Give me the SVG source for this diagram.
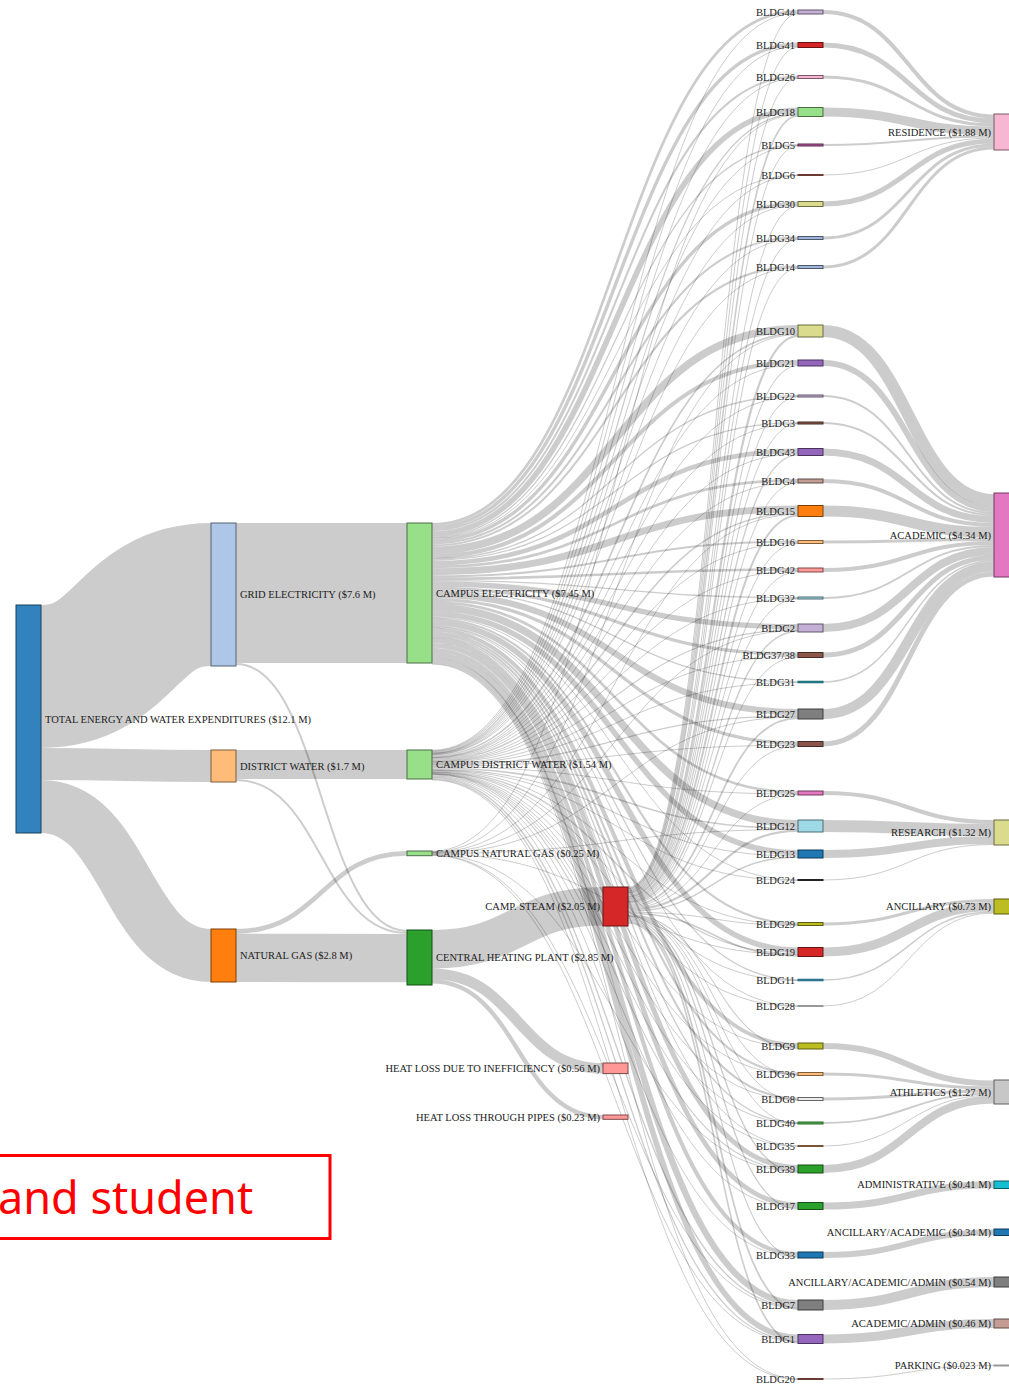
<svg xmlns="http://www.w3.org/2000/svg" width="1009" height="1387" viewBox="0 0 1009 1387">
<style>
.lk{fill:none;stroke:#000;stroke-opacity:.2}
text{font-family:"Liberation Serif","Times New Roman",serif;font-size:10.5px;fill:#222}
.r{text-anchor:end}
</style>
<rect x="0" y="0" width="1009" height="1387" fill="#fff"/>
<g id="links">
<path class="lk" stroke-width="143" d="M41,676.5C126,676.5 126,594.5 211,594.5"/>
<path class="lk" stroke-width="32" d="M41,764C126,764 126,766 211,766"/>
<path class="lk" stroke-width="53" d="M41,806.5C126,806.5 126,955.5 211,955.5"/>
<path class="lk" stroke-width="140" d="M236,593C321.5,593 321.5,593 407,593"/>
<path class="lk" stroke-width="2" d="M236,664C321.5,664 321.5,931 407,931"/>
<path class="lk" stroke-width="29" d="M236,764.5C321.5,764.5 321.5,764.5 407,764.5"/>
<path class="lk" stroke-width="2" d="M236,780C321.5,780 321.5,933 407,933"/>
<path class="lk" stroke-width="4.7" d="M236,931.35C321.5,931.35 321.5,853.35 407,853.35"/>
<path class="lk" stroke-width="48.3" d="M236,957.85C321.5,957.85 321.5,958.15 407,958.15"/>
<path class="lk" stroke-width="38.6" d="M432,949.3C517.5,949.3 517.5,906.3 603,906.3"/>
<path class="lk" stroke-width="10.6" d="M432,973.9C517.5,973.9 517.5,1068.3 603,1068.3"/>
<path class="lk" stroke-width="4.3" d="M432,981.35C517.5,981.35 517.5,1117.15 603,1117.15"/>
<!-- campus electricity -> buildings -->
<path class="lk" stroke-width="2.7" d="M432,524.35C615,524.35 615,11.35 798,11.35"/>
<path class="lk" stroke-width="3.4" d="M432,527.4C615,527.4 615,44.2 798,44.2"/>
<path class="lk" stroke-width="2.1" d="M432,530.15C615,530.15 615,76.55 798,76.55"/>
<path class="lk" stroke-width="5.6" d="M432,534C615,534 615,110.3 798,110.3"/>
<path class="lk" stroke-width="1.3" d="M432,537.45C615,537.45 615,144.65 798,144.65"/>
<path class="lk" stroke-width="1" d="M432,538.5C615,538.5 615,174.93 798,174.93"/>
<path class="lk" stroke-width="3.4" d="M432,540.65C615,540.65 615,203.2 798,203.2"/>
<path class="lk" stroke-width="2.1" d="M432,543.4C615,543.4 615,237.55 798,237.55"/>
<path class="lk" stroke-width="2.1" d="M432,545.5C615,545.5 615,266.55 798,266.55"/>
<path class="lk" stroke-width="7.6" d="M432,550.35C615,550.35 615,328.8 798,328.8"/>
<path class="lk" stroke-width="4.1" d="M432,556.2C615,556.2 615,362.05 798,362.05"/>
<path class="lk" stroke-width="1.3" d="M432,558.9C615,558.9 615,395.65 798,395.65"/>
<path class="lk" stroke-width="1.3" d="M432,560.2C615,560.2 615,422.65 798,422.65"/>
<path class="lk" stroke-width="4.7" d="M432,563.2C615,563.2 615,450.85 798,450.85"/>
<path class="lk" stroke-width="2.7" d="M432,566.9C615,566.9 615,480.35 798,480.35"/>
<path class="lk" stroke-width="7" d="M432,571.75C615,571.75 615,509 798,509"/>
<path class="lk" stroke-width="2.1" d="M432,576.3C615,576.3 615,541.55 798,541.55"/>
<path class="lk" stroke-width="2.7" d="M432,578.7C615,578.7 615,569.35 798,569.35"/>
<path class="lk" stroke-width="1.3" d="M432,580.7C615,580.7 615,597.65 798,597.65"/>
<path class="lk" stroke-width="5.3" d="M432,584C615,584 615,626.65 798,626.65"/>
<path class="lk" stroke-width="3.4" d="M432,588.35C615,588.35 615,654.2 798,654.2"/>
<path class="lk" stroke-width="1.3" d="M432,590.7C615,590.7 615,681.9 798,681.9"/>
<path class="lk" stroke-width="6.3" d="M432,594.5C615,594.5 615,712.15 798,712.15"/>
<path class="lk" stroke-width="3.4" d="M432,599.35C615,599.35 615,743.2 798,743.2"/>
<path class="lk" stroke-width="2.7" d="M432,602.4C615,602.4 615,792.35 798,792.35"/>
<path class="lk" stroke-width="7.6" d="M432,607.55C615,607.55 615,823.8 798,823.8"/>
<path class="lk" stroke-width="5.5" d="M432,614.1C615,614.1 615,852.75 798,852.75"/>
<path class="lk" stroke-width="1" d="M432,617.3C615,617.3 615,879.93 798,879.93"/>
<path class="lk" stroke-width="2.1" d="M432,618.75C615,618.75 615,923.55 798,923.55"/>
<path class="lk" stroke-width="5.6" d="M432,622.6C615,622.6 615,950.3 798,950.3"/>
<path class="lk" stroke-width="1.3" d="M432,626.05C615,626.05 615,979.9 798,979.9"/>
<path class="lk" stroke-width="1" d="M432,627.1C615,627.1 615,1005.93 798,1005.93"/>
<path class="lk" stroke-width="4.1" d="M432,629.6C615,629.6 615,1045.05 798,1045.05"/>
<path class="lk" stroke-width="2.1" d="M432,632.7C615,632.7 615,1073.55 798,1073.55"/>
<path class="lk" stroke-width="2.1" d="M432,634.8C615,634.8 615,1098.55 798,1098.55"/>
<path class="lk" stroke-width="1.3" d="M432,636.5C615,636.5 615,1122.65 798,1122.65"/>
<path class="lk" stroke-width="1" d="M432,637.6C615,637.6 615,1145.93 798,1145.93"/>
<path class="lk" stroke-width="5" d="M432,640.5C615,640.5 615,1167.5 798,1167.5"/>
<path class="lk" stroke-width="4.7" d="M432,645.35C615,645.35 615,1204.85 798,1204.85"/>
<path class="lk" stroke-width="4.1" d="M432,649.75C615,649.75 615,1254.05 798,1254.05"/>
<path class="lk" stroke-width="6.3" d="M432,654.95C615,654.95 615,1303.15 798,1303.15"/>
<path class="lk" stroke-width="5.6" d="M432,660.9C615,660.9 615,1337.3 798,1337.3"/>
<path class="lk" stroke-width="1" d="M432,664.1C615,664.1 615,1378.93 798,1378.93"/>
<!-- campus district water -> buildings -->
<path class="lk" stroke-width="1" d="M432,750.3C615,750.3 615,13 798,13"/>
<path class="lk" stroke-width="1" d="M432,750.95C615,750.95 615,46.25 798,46.25"/>
<path class="lk" stroke-width="1" d="M432,751.5C615,751.5 615,77.8 798,77.8"/>
<path class="lk" stroke-width="1.3" d="M432,752.35C615,752.35 615,113.75 798,113.75"/>
<path class="lk" stroke-width="1" d="M432,753.15C615,753.15 615,145.45 798,145.45"/>
<path class="lk" stroke-width="1" d="M432,753.38C615,753.38 615,175.43 798,175.43"/>
<path class="lk" stroke-width="1" d="M432,753.8C615,753.8 615,205.25 798,205.25"/>
<path class="lk" stroke-width="1" d="M432,754.35C615,754.35 615,238.8 798,238.8"/>
<path class="lk" stroke-width="1" d="M432,754.75C615,754.75 615,267.8 798,267.8"/>
<path class="lk" stroke-width="1.7" d="M432,755.8C615,755.8 615,333.45 798,333.45"/>
<path class="lk" stroke-width="1" d="M432,757.05C615,757.05 615,364.5 798,364.5"/>
<path class="lk" stroke-width="1" d="M432,757.6C615,757.6 615,396.45 798,396.45"/>
<path class="lk" stroke-width="1" d="M432,757.9C615,757.9 615,423.45 798,423.45"/>
<path class="lk" stroke-width="1" d="M432,758.55C615,758.55 615,453.7 798,453.7"/>
<path class="lk" stroke-width="1" d="M432,759.35C615,759.35 615,482 798,482"/>
<path class="lk" stroke-width="1.5" d="M432,760.4C615,760.4 615,513.25 798,513.25"/>
<path class="lk" stroke-width="1" d="M432,761.35C615,761.35 615,542.8 798,542.8"/>
<path class="lk" stroke-width="1" d="M432,761.85C615,761.85 615,571 798,571"/>
<path class="lk" stroke-width="1" d="M432,762.3C615,762.3 615,598.45 798,598.45"/>
<path class="lk" stroke-width="1.1" d="M432,763C615,763 615,629.85 798,629.85"/>
<path class="lk" stroke-width="1" d="M432,763.9C615,763.9 615,656.25 798,656.25"/>
<path class="lk" stroke-width="1" d="M432,764.35C615,764.35 615,682.65 798,682.65"/>
<path class="lk" stroke-width="1.4" d="M432,765.15C615,765.15 615,716 798,716"/>
<path class="lk" stroke-width="1" d="M432,766.2C615,766.2 615,745.25 798,745.25"/>
<path class="lk" stroke-width="1" d="M432,766.85C615,766.85 615,794 798,794"/>
<path class="lk" stroke-width="1.7" d="M432,768C615,768 615,828.45 798,828.45"/>
<path class="lk" stroke-width="1.1" d="M432,769.4C615,769.4 615,856.05 798,856.05"/>
<path class="lk" stroke-width="1" d="M432,770.03C615,770.03 615,880.43 798,880.43"/>
<path class="lk" stroke-width="1" d="M432,770.3C615,770.3 615,924.8 798,924.8"/>
<path class="lk" stroke-width="1.3" d="M432,771.15C615,771.15 615,953.75 798,953.75"/>
<path class="lk" stroke-width="1" d="M432,771.9C615,771.9 615,980.65 798,980.65"/>
<path class="lk" stroke-width="1" d="M432,772.08C615,772.08 615,1006.43 798,1006.43"/>
<path class="lk" stroke-width="1" d="M432,772.55C615,772.55 615,1047.5 798,1047.5"/>
<path class="lk" stroke-width="1" d="M432,773.15C615,773.15 615,1074.8 798,1074.8"/>
<path class="lk" stroke-width="1" d="M432,773.55C615,773.55 615,1099.8 798,1099.8"/>
<path class="lk" stroke-width="1" d="M432,773.9C615,773.9 615,1123.45 798,1123.45"/>
<path class="lk" stroke-width="1" d="M432,774.13C615,774.13 615,1146.43 798,1146.43"/>
<path class="lk" stroke-width="1.1" d="M432,774.75C615,774.75 615,1170.55 798,1170.55"/>
<path class="lk" stroke-width="1" d="M432,775.8C615,775.8 615,1207.7 798,1207.7"/>
<path class="lk" stroke-width="1" d="M432,776.7C615,776.7 615,1256.5 798,1256.5"/>
<path class="lk" stroke-width="1.4" d="M432,777.8C615,777.8 615,1307 798,1307"/>
<path class="lk" stroke-width="1.3" d="M432,779.15C615,779.15 615,1340.75 798,1340.75"/>
<path class="lk" stroke-width="1" d="M432,779.88C615,779.88 615,1379.43 798,1379.43"/>
<!-- campus natural gas -> buildings -->
<path class="lk" stroke-width="1" d="M432,851.25C615,851.25 615,114.65 798,114.65"/>
<path class="lk" stroke-width="1" d="M432,851.75C615,851.75 615,334.55 798,334.55"/>
<path class="lk" stroke-width="1" d="M432,852.25C615,852.25 615,514.25 798,514.25"/>
<path class="lk" stroke-width="1" d="M432,852.6C615,852.6 615,630.5 798,630.5"/>
<path class="lk" stroke-width="1" d="M432,852.95C615,852.95 615,716.95 798,716.95"/>
<path class="lk" stroke-width="1" d="M432,853.45C615,853.45 615,829.55 798,829.55"/>
<path class="lk" stroke-width="1" d="M432,853.95C615,853.95 615,954.65 798,954.65"/>
<path class="lk" stroke-width="1" d="M432,854.45C615,854.45 615,1171.35 798,1171.35"/>
<path class="lk" stroke-width="1" d="M432,854.95C615,854.95 615,1307.95 798,1307.95"/>
<path class="lk" stroke-width="1" d="M432,855.45C615,855.45 615,1341.65 798,1341.65"/>
<!-- camp. steam -> buildings -->
<path class="lk" stroke-width="1" d="M628,887.35C713,887.35 713,13.65 798,13.65"/>
<path class="lk" stroke-width="1" d="M628,888.15C713,888.15 713,47.05 798,47.05"/>
<path class="lk" stroke-width="1" d="M628,888.85C713,888.85 713,78.25 798,78.25"/>
<path class="lk" stroke-width="1.6" d="M628,889.9C713,889.9 713,115.7 798,115.7"/>
<path class="lk" stroke-width="1" d="M628,890.9C713,890.9 713,145.8 798,145.8"/>
<path class="lk" stroke-width="1" d="M628,891.55C713,891.55 713,206.05 798,206.05"/>
<path class="lk" stroke-width="1" d="M628,892.25C713,892.25 713,239.25 798,239.25"/>
<path class="lk" stroke-width="1" d="M628,892.75C713,892.75 713,268.25 798,268.25"/>
<path class="lk" stroke-width="2.2" d="M628,894.1C713,894.1 713,335.9 798,335.9"/>
<path class="lk" stroke-width="1.1" d="M628,895.75C713,895.75 713,365.45 798,365.45"/>
<path class="lk" stroke-width="1" d="M628,896.5C713,896.5 713,396.8 798,396.8"/>
<path class="lk" stroke-width="1" d="M628,896.9C713,896.9 713,423.8 798,423.8"/>
<path class="lk" stroke-width="1.3" d="M628,897.75C713,897.75 713,454.85 798,454.85"/>
<path class="lk" stroke-width="1" d="M628,898.75C713,898.75 713,482.65 798,482.65"/>
<path class="lk" stroke-width="2" d="M628,900.1C713,900.1 713,515.5 798,515.5"/>
<path class="lk" stroke-width="1" d="M628,901.35C713,901.35 713,543.25 798,543.25"/>
<path class="lk" stroke-width="1" d="M628,901.95C713,901.95 713,571.65 798,571.65"/>
<path class="lk" stroke-width="1" d="M628,902.5C713,902.5 713,598.8 798,598.8"/>
<path class="lk" stroke-width="1.4" d="M628,903.4C713,903.4 713,631.3 798,631.3"/>
<path class="lk" stroke-width="1" d="M628,904.55C713,904.55 713,657.05 798,657.05"/>
<path class="lk" stroke-width="1.8" d="M628,905.9C713,905.9 713,718.1 798,718.1"/>
<path class="lk" stroke-width="1" d="M628,907.25C713,907.25 713,746.05 798,746.05"/>
<path class="lk" stroke-width="1" d="M628,908.05C713,908.05 713,794.65 798,794.65"/>
<path class="lk" stroke-width="2.2" d="M628,909.5C713,909.5 713,830.9 798,830.9"/>
<path class="lk" stroke-width="1.4" d="M628,911.3C713,911.3 713,857.3 798,857.3"/>
<path class="lk" stroke-width="1" d="M628,912.25C713,912.25 713,925.25 798,925.25"/>
<path class="lk" stroke-width="1.6" d="M628,913.3C713,913.3 713,955.7 798,955.7"/>
<path class="lk" stroke-width="1.1" d="M628,914.65C713,914.65 713,1048.45 798,1048.45"/>
<path class="lk" stroke-width="1" d="M628,915.45C713,915.45 713,1075.25 798,1075.25"/>
<path class="lk" stroke-width="1" d="M628,915.95C713,915.95 713,1100.25 798,1100.25"/>
<path class="lk" stroke-width="1" d="M628,916.4C713,916.4 713,1123.8 798,1123.8"/>
<path class="lk" stroke-width="1.4" d="M628,917.3C713,917.3 713,1172.3 798,1172.3"/>
<path class="lk" stroke-width="1.3" d="M628,918.65C713,918.65 713,1208.85 798,1208.85"/>
<path class="lk" stroke-width="1.1" d="M628,919.85C713,919.85 713,1257.45 798,1257.45"/>
<path class="lk" stroke-width="1.8" d="M628,921.3C713,921.3 713,1309.1 798,1309.1"/>
<path class="lk" stroke-width="1.6" d="M628,923C713,923 713,1342.7 798,1342.7"/>
<!-- buildings -> categories -->
<path class="lk" stroke-width="4" d="M823,12C908.5,12 908.5,116.5 994,116.5"/>
<path class="lk" stroke-width="5" d="M823,45C908.5,45 908.5,121 994,121"/>
<path class="lk" stroke-width="3" d="M823,77C908.5,77 908.5,125 994,125"/>
<path class="lk" stroke-width="9" d="M823,112C908.5,112 908.5,131 994,131"/>
<path class="lk" stroke-width="2" d="M823,145C908.5,145 908.5,136.5 994,136.5"/>
<path class="lk" stroke-width="1" d="M823,175C908.5,175 908.5,138 994,138"/>
<path class="lk" stroke-width="5" d="M823,204C908.5,204 908.5,141 994,141"/>
<path class="lk" stroke-width="3" d="M823,238C908.5,238 908.5,145 994,145"/>
<path class="lk" stroke-width="3" d="M823,267C908.5,267 908.5,148 994,148"/>
<path class="lk" stroke-width="12" d="M823,331C908.5,331 908.5,500 994,500"/>
<path class="lk" stroke-width="6" d="M823,363C908.5,363 908.5,509 994,509"/>
<path class="lk" stroke-width="2" d="M823,396C908.5,396 908.5,513 994,513"/>
<path class="lk" stroke-width="2" d="M823,423C908.5,423 908.5,515 994,515"/>
<path class="lk" stroke-width="7" d="M823,452C908.5,452 908.5,519.5 994,519.5"/>
<path class="lk" stroke-width="4" d="M823,481C908.5,481 908.5,525 994,525"/>
<path class="lk" stroke-width="11" d="M823,511C908.5,511 908.5,532.5 994,532.5"/>
<path class="lk" stroke-width="3" d="M823,542C908.5,542 908.5,539.5 994,539.5"/>
<path class="lk" stroke-width="4" d="M823,570C908.5,570 908.5,543 994,543"/>
<path class="lk" stroke-width="2" d="M823,598C908.5,598 908.5,546 994,546"/>
<path class="lk" stroke-width="8" d="M823,628C908.5,628 908.5,551 994,551"/>
<path class="lk" stroke-width="5" d="M823,655C908.5,655 908.5,557.5 994,557.5"/>
<path class="lk" stroke-width="1.5" d="M823,682C908.5,682 908.5,560.75 994,560.75"/>
<path class="lk" stroke-width="10" d="M823,714C908.5,714 908.5,566.5 994,566.5"/>
<path class="lk" stroke-width="5" d="M823,744C908.5,744 908.5,574 994,574"/>
<path class="lk" stroke-width="4" d="M823,793C908.5,793 908.5,822 994,822"/>
<path class="lk" stroke-width="12" d="M823,826C908.5,826 908.5,830 994,830"/>
<path class="lk" stroke-width="8" d="M823,854C908.5,854 908.5,840 994,840"/>
<path class="lk" stroke-width="1" d="M823,880C908.5,880 908.5,844.5 994,844.5"/>
<path class="lk" stroke-width="3" d="M823,924C908.5,924 908.5,900.5 994,900.5"/>
<path class="lk" stroke-width="9" d="M823,952C908.5,952 908.5,906.5 994,906.5"/>
<path class="lk" stroke-width="1.5" d="M823,980C908.5,980 908.5,911.75 994,911.75"/>
<path class="lk" stroke-width="1" d="M823,1006C908.5,1006 908.5,913 994,913"/>
<path class="lk" stroke-width="6" d="M823,1046C908.5,1046 908.5,1083.5 994,1083.5"/>
<path class="lk" stroke-width="3" d="M823,1074C908.5,1074 908.5,1088 994,1088"/>
<path class="lk" stroke-width="3" d="M823,1099C908.5,1099 908.5,1091 994,1091"/>
<path class="lk" stroke-width="2" d="M823,1123C908.5,1123 908.5,1093.5 994,1093.5"/>
<path class="lk" stroke-width="1" d="M823,1146C908.5,1146 908.5,1095 994,1095"/>
<path class="lk" stroke-width="8" d="M823,1169C908.5,1169 908.5,1099.5 994,1099.5"/>
<path class="lk" stroke-width="7" d="M823,1206C908.5,1206 908.5,1184.75 994,1184.75"/>
<path class="lk" stroke-width="6" d="M823,1255C908.5,1255 908.5,1232.25 994,1232.25"/>
<path class="lk" stroke-width="10" d="M823,1305C908.5,1305 908.5,1282 994,1282"/>
<path class="lk" stroke-width="9" d="M823,1339C908.5,1339 908.5,1323.5 994,1323.5"/>
<path class="lk" stroke-width="1" d="M823,1379C908.5,1379 908.5,1365.5 994,1365.5"/>
</g>
<g id="nodes">
<g id="total"><rect x="16" y="605" width="25" height="228" fill="#3182bd" stroke="#18405d"/><text x="45" y="722.7">TOTAL ENERGY AND WATER EXPENDITURES ($12.1 M)</text></g>
<g id="grid-electricity"><rect x="211" y="523" width="25" height="143" fill="#aec7e8" stroke="#556271"/><text x="240" y="598.2">GRID ELECTRICITY ($7.6 M)</text></g>
<g id="district-water"><rect x="211" y="750" width="25" height="32" fill="#ffbb78" stroke="#7d5c3b"/><text x="240" y="769.7">DISTRICT WATER ($1.7 M)</text></g>
<g id="natural-gas"><rect x="211" y="929" width="25" height="53" fill="#ff7f0e" stroke="#7d3e07"/><text x="240" y="959.2">NATURAL GAS ($2.8 M)</text></g>
<g id="campus-electricity"><rect x="407" y="523" width="25" height="140" fill="#98df8a" stroke="#4a6d44"/><text x="436" y="596.7">CAMPUS ELECTRICITY ($7.45 M)</text></g>
<g id="campus-district-water"><rect x="407" y="750" width="25" height="29" fill="#98df8a" stroke="#4a6d44"/><text x="436" y="768.2">CAMPUS DISTRICT WATER ($1.54 M)</text></g>
<g id="campus-natural-gas"><rect x="407" y="851" width="25" height="4.7" fill="#98df8a" stroke="#4a6d44"/><text x="436" y="857">CAMPUS NATURAL GAS ($0.25 M)</text></g>
<g id="central-heating-plant"><rect x="407" y="930" width="25" height="55" fill="#2ca02c" stroke="#164e16"/><text x="436" y="961.2">CENTRAL HEATING PLANT ($2.85 M)</text></g>
<g id="camp-steam"><rect x="603" y="887" width="25" height="39" fill="#d62728" stroke="#691314"/><text class="r" x="600" y="910.2">CAMP. STEAM ($2.05 M)</text></g>
<g id="heat-loss-ineff"><rect x="603" y="1063" width="25" height="10.6" fill="#ff9896" stroke="#7d4a49"/><text class="r" x="600" y="1072">HEAT LOSS DUE TO INEFFICIENCY ($0.56 M)</text></g>
<g id="heat-loss-pipes"><rect x="603" y="1115" width="25" height="4.3" fill="#ff9896" stroke="#7d4a49"/><text class="r" x="600" y="1120.9">HEAT LOSS THROUGH PIPES ($0.23 M)</text></g>

<g id="bldg44"><rect x="798" y="10" width="25" height="4" fill="#c5b0d5" stroke="#615668"/><text class="r" x="795" y="15.7">BLDG44</text></g>
<g id="bldg41"><rect x="798" y="42.5" width="25" height="5" fill="#d62728" stroke="#691314"/><text class="r" x="795" y="48.7">BLDG41</text></g>
<g id="bldg26"><rect x="798" y="75.5" width="25" height="3" fill="#f7b6d2" stroke="#795967"/><text class="r" x="795" y="80.7">BLDG26</text></g>
<g id="bldg18"><rect x="798" y="107.5" width="25" height="9" fill="#98df8a" stroke="#4a6d44"/><text class="r" x="795" y="115.7">BLDG18</text></g>
<g id="bldg5"><rect x="798" y="144" width="25" height="2" fill="#b5579f" stroke="#592a4e"/><text class="r" x="795" y="148.7">BLDG5</text></g>
<g id="bldg6"><rect x="798" y="174.5" width="25" height="1" fill="#8c564b" stroke="#6b3a33"/><text class="r" x="795" y="178.7">BLDG6</text></g>
<g id="bldg30"><rect x="798" y="201.5" width="25" height="5" fill="#dbdb8d" stroke="#6b6b45"/><text class="r" x="795" y="207.7">BLDG30</text></g>
<g id="bldg34"><rect x="798" y="236.5" width="25" height="3" fill="#9fb4d9" stroke="#4e586a"/><text class="r" x="795" y="241.7">BLDG34</text></g>
<g id="bldg14"><rect x="798" y="265.5" width="25" height="3" fill="#9fb4d9" stroke="#4e586a"/><text class="r" x="795" y="270.7">BLDG14</text></g>
<g id="bldg10"><rect x="798" y="325" width="25" height="12" fill="#dbdb8d" stroke="#6b6b45"/><text class="r" x="795" y="334.7">BLDG10</text></g>
<g id="bldg21"><rect x="798" y="360" width="25" height="6" fill="#9467bd" stroke="#49325d"/><text class="r" x="795" y="366.7">BLDG21</text></g>
<g id="bldg22"><rect x="798" y="395" width="25" height="2" fill="#c5b0d5" stroke="#615668"/><text class="r" x="795" y="399.7">BLDG22</text></g>
<g id="bldg3"><rect x="798" y="422" width="25" height="2" fill="#8c564b" stroke="#452a25"/><text class="r" x="795" y="426.7">BLDG3</text></g>
<g id="bldg43"><rect x="798" y="448.5" width="25" height="7" fill="#9467bd" stroke="#49325d"/><text class="r" x="795" y="455.7">BLDG43</text></g>
<g id="bldg4"><rect x="798" y="479" width="25" height="4" fill="#c49c94" stroke="#604c49"/><text class="r" x="795" y="484.7">BLDG4</text></g>
<g id="bldg15"><rect x="798" y="505.5" width="25" height="11" fill="#ff7f0e" stroke="#7d3e07"/><text class="r" x="795" y="514.7">BLDG15</text></g>
<g id="bldg16"><rect x="798" y="540.5" width="25" height="3" fill="#ffbb78" stroke="#7d5c3b"/><text class="r" x="795" y="545.7">BLDG16</text></g>
<g id="bldg42"><rect x="798" y="568" width="25" height="4" fill="#ff9896" stroke="#7d4a49"/><text class="r" x="795" y="573.7">BLDG42</text></g>
<g id="bldg32"><rect x="798" y="597" width="25" height="2" fill="#9edae5" stroke="#4d6b70"/><text class="r" x="795" y="601.7">BLDG32</text></g>
<g id="bldg2"><rect x="798" y="624" width="25" height="8" fill="#c5b0d5" stroke="#615668"/><text class="r" x="795" y="631.7">BLDG2</text></g>
<g id="bldg37-38"><rect x="798" y="652.5" width="25" height="5" fill="#8c564b" stroke="#452a25"/><text class="r" x="795" y="658.7">BLDG37/38</text></g>
<g id="bldg31"><rect x="798" y="681.25" width="25" height="1.5" fill="#1b8f9e" stroke="#136570"/><text class="r" x="795" y="685.7">BLDG31</text></g>
<g id="bldg27"><rect x="798" y="709" width="25" height="10" fill="#7f7f7f" stroke="#3e3e3e"/><text class="r" x="795" y="717.7">BLDG27</text></g>
<g id="bldg23"><rect x="798" y="741.5" width="25" height="5" fill="#8c564b" stroke="#452a25"/><text class="r" x="795" y="747.7">BLDG23</text></g>
<g id="bldg25"><rect x="798" y="791" width="25" height="4" fill="#e377c2" stroke="#6f3a5f"/><text class="r" x="795" y="796.7">BLDG25</text></g>
<g id="bldg12"><rect x="798" y="820" width="25" height="12" fill="#9edae5" stroke="#4d6b70"/><text class="r" x="795" y="829.7">BLDG12</text></g>
<g id="bldg13"><rect x="798" y="850" width="25" height="8" fill="#1f77b4" stroke="#0f3a58"/><text class="r" x="795" y="857.7">BLDG13</text></g>
<g id="bldg24"><rect x="798" y="879.5" width="25" height="1" fill="#333" stroke="#222"/><text class="r" x="795" y="883.7">BLDG24</text></g>
<g id="bldg29"><rect x="798" y="922.5" width="25" height="3" fill="#bcbd22" stroke="#5c5d11"/><text class="r" x="795" y="927.7">BLDG29</text></g>
<g id="bldg19"><rect x="798" y="947.5" width="25" height="9" fill="#d62728" stroke="#691314"/><text class="r" x="795" y="955.7">BLDG19</text></g>
<g id="bldg11"><rect x="798" y="979.25" width="25" height="1.5" fill="#2b8cb0" stroke="#1d6580"/><text class="r" x="795" y="983.7">BLDG11</text></g>
<g id="bldg28"><rect x="798" y="1005.5" width="25" height="1" fill="#aaa" stroke="#999"/><text class="r" x="795" y="1009.7">BLDG28</text></g>
<g id="bldg9"><rect x="798" y="1043" width="25" height="6" fill="#bcbd22" stroke="#5c5d11"/><text class="r" x="795" y="1049.7">BLDG9</text></g>
<g id="bldg36"><rect x="798" y="1072.5" width="25" height="3" fill="#ffbb78" stroke="#7d5c3b"/><text class="r" x="795" y="1077.7">BLDG36</text></g>
<g id="bldg8"><rect x="798" y="1097.5" width="25" height="3" fill="#ececec" stroke="#666"/><text class="r" x="795" y="1102.7">BLDG8</text></g>
<g id="bldg40"><rect x="798" y="1122" width="25" height="2" fill="#4cb04c" stroke="#2a6b2a"/><text class="r" x="795" y="1126.7">BLDG40</text></g>
<g id="bldg35"><rect x="798" y="1145.5" width="25" height="1" fill="#a0724a" stroke="#7a5535"/><text class="r" x="795" y="1149.7">BLDG35</text></g>
<g id="bldg39"><rect x="798" y="1165" width="25" height="8" fill="#2ca02c" stroke="#164e16"/><text class="r" x="795" y="1172.7">BLDG39</text></g>
<g id="bldg17"><rect x="798" y="1202.5" width="25" height="7" fill="#2ca02c" stroke="#164e16"/><text class="r" x="795" y="1209.7">BLDG17</text></g>
<g id="bldg33"><rect x="798" y="1252" width="25" height="6" fill="#1f77b4" stroke="#0f3a58"/><text class="r" x="795" y="1258.7">BLDG33</text></g>
<g id="bldg7"><rect x="798" y="1300" width="25" height="10" fill="#7f7f7f" stroke="#3e3e3e"/><text class="r" x="795" y="1308.7">BLDG7</text></g>
<g id="bldg1"><rect x="798" y="1334.5" width="25" height="9" fill="#9467bd" stroke="#49325d"/><text class="r" x="795" y="1342.7">BLDG1</text></g>
<g id="bldg20"><rect x="798" y="1378.5" width="25" height="1" fill="#8c564b" stroke="#6b3a33"/><text class="r" x="795" y="1382.7">BLDG20</text></g>

<g id="residence"><rect x="994" y="114" width="25" height="36" fill="#f7b6d2" stroke="#795967"/><text class="r" x="991" y="135.7">RESIDENCE ($1.88 M)</text></g>
<g id="academic"><rect x="994" y="493" width="25" height="84" fill="#e377c2" stroke="#6f3a5f"/><text class="r" x="991" y="538.7">ACADEMIC ($4.34 M)</text></g>
<g id="research"><rect x="994" y="820" width="25" height="25" fill="#dbdb8d" stroke="#6b6b45"/><text class="r" x="991" y="836.2">RESEARCH ($1.32 M)</text></g>
<g id="ancillary"><rect x="994" y="899" width="25" height="15" fill="#bcbd22" stroke="#5c5d11"/><text class="r" x="991" y="910.2">ANCILLARY ($0.73 M)</text></g>
<g id="athletics"><rect x="994" y="1080" width="25" height="24" fill="#c7c7c7" stroke="#626262"/><text class="r" x="991" y="1095.7">ATHLETICS ($1.27 M)</text></g>
<g id="administrative"><rect x="994" y="1181" width="25" height="7.5" fill="#17becf" stroke="#0b5d65"/><text class="r" x="991" y="1188.45">ADMINISTRATIVE ($0.41 M)</text></g>
<g id="ancillary-academic"><rect x="994" y="1229" width="25" height="6.5" fill="#1f77b4" stroke="#0f3a58"/><text class="r" x="991" y="1235.95">ANCILLARY/ACADEMIC ($0.34 M)</text></g>
<g id="ancillary-academic-admin"><rect x="994" y="1277" width="25" height="10" fill="#7f7f7f" stroke="#3e3e3e"/><text class="r" x="991" y="1285.7">ANCILLARY/ACADEMIC/ADMIN ($0.54 M)</text></g>
<g id="academic-admin"><rect x="994" y="1319" width="25" height="9" fill="#c49c94" stroke="#604c49"/><text class="r" x="991" y="1327.2">ACADEMIC/ADMIN ($0.46 M)</text></g>
<g id="parking"><rect x="994" y="1365" width="25" height="1" fill="#aaa" stroke="#999"/><text class="r" x="991" y="1369.2">PARKING ($0.023 M)</text></g>
</g>
<g id="callout">
<rect x="-10" y="1155.5" width="340" height="83" fill="none" stroke="#ff0000" stroke-width="3"/>
<text x="-2" y="1214" style="font-family:'Noto Sans','Open Sans',sans-serif;font-size:45px;fill:#ff0000">and student</text>
</g>
</svg>
